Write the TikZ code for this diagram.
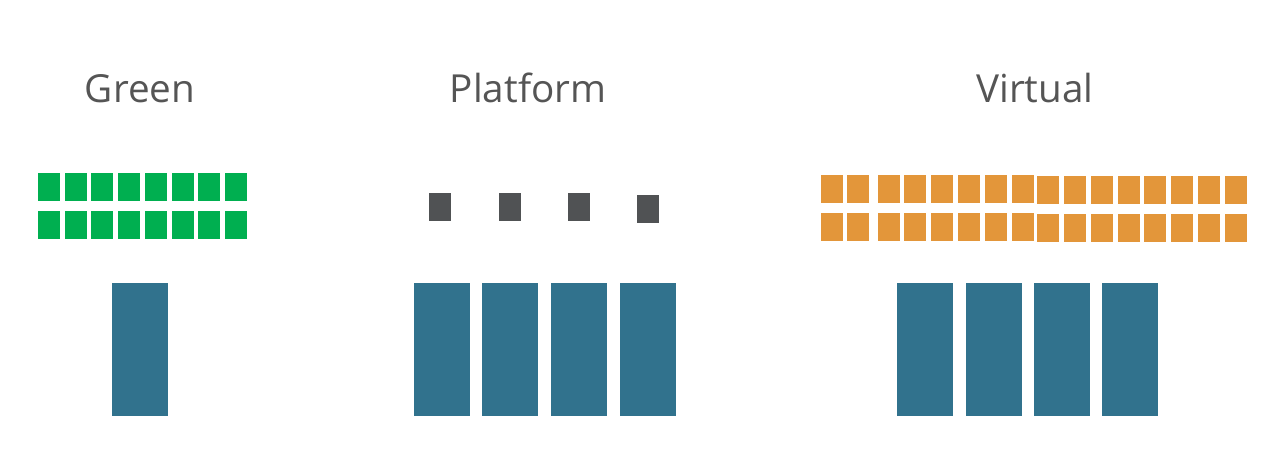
\documentclass[tikz,border=0pt]{standalone}
\usepackage{fontspec}
\setmainfont{Open Sans}
\definecolor{txtgrey}{HTML}{555555}
\definecolor{vmgreen}{HTML}{00AF50}
\definecolor{vmorange}{HTML}{E3963A}
\definecolor{vmgrey}{HTML}{505254}
\definecolor{hostblue}{HTML}{31728D}
\tikzset{
  title/.style={anchor=base, text=txtgrey, inner sep=0pt, font=\fontsize{22}{26}\selectfont},
  host/.style={fill=hostblue},
  greenvm/.style={fill=vmgreen},
  orangevm/.style={fill=vmorange},
  platvm/.style={fill=vmgrey}
}
\begin{document}
\begin{tikzpicture}[x=0.02cm, y=-0.02cm, line join=round]
		\useasboundingbox (0,0) rectangle (1280,453);
		% titles
		\node[title] (green) at (140,102) {Green};
		\node[title] (platform) at (528,102) {Platform};
		\node[title] (virtual) at (1035,102) {Virtual};
		% green threads
		\foreach \i in {0,...,7} \foreach \y in {173,211}
			\fill[greenvm] ({38+26.7*\i},\y) rectangle +(22,28);
		% platform threads
		\foreach \x in {429,499,568} \fill[platvm] (\x,193) rectangle +(22,28);
		\fill[platvm] (637,195) rectangle +(22,28);
		% virtual threads
		\foreach \x in {821,847,878,904,931,958,985,1012} \foreach \y in {175,213}
			\fill[orangevm] (\x,\y) rectangle +(22,28);
		\foreach \x in {1037,1064,1091,1118,1144,1171,1198,1225} \foreach \y in {176,214}
			\fill[orangevm] (\x,\y) rectangle +(22,28);
		% OS threads
		\foreach \x in {112,414,482,551,620,897,966,1034,1102}
			\fill[host] (\x,283) rectangle +(56,133);
		\end{tikzpicture}
\end{document}
